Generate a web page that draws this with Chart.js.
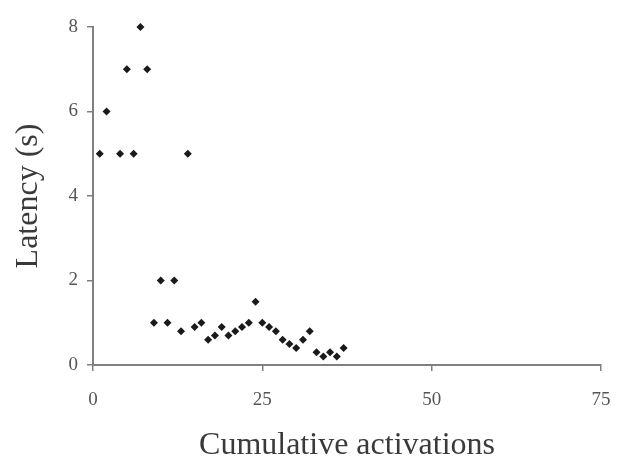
<!DOCTYPE html>
<html>
<head>
<meta charset="utf-8">
<script src="https://cdn.jsdelivr.net/npm/chart.js@4"></script>
<style>
  html, body { margin: 0; padding: 0; background: #fff; }
  #wrap { width: 621px; height: 466px; }
</style>
</head>
<body>
<div id="wrap"><canvas id="chart" width="621" height="466"></canvas></div>
<script>
// Activation count vs. response latency
const activations = [1, 2, 4, 5, 6, 7, 8, 9, 10, 11, 12, 13, 14, 15, 16, 17, 18, 19, 20,
  21, 22, 23, 24, 25, 26, 27, 28, 29, 30, 31, 32, 33, 34, 35, 36, 37];
const latency = [5, 6, 5, 7, 5, 8, 7, 1, 2, 1, 2, 0.8, 5, 0.9, 1, 0.6, 0.7, 0.9, 0.7,
  0.8, 0.9, 1, 1.5, 1, 0.9, 0.8, 0.6, 0.5, 0.4, 0.6, 0.8, 0.3, 0.2, 0.3, 0.2, 0.4];
const xTicks = [0, 25, 50, 75];
const yTicks = [0, 2, 4, 6, 8];

const serif = '"Liberation Serif", "Times New Roman", serif';
const axisGrey = '#808080';

new Chart(document.getElementById('chart'), {
  type: 'scatter',
  data: {
    datasets: [{
      data: activations.map((x, i) => ({ x: x, y: latency[i] })),
      pointStyle: 'rectRot',
      pointRadius: 4,
      backgroundColor: '#1a1a1a',
      borderColor: '#1a1a1a',
      borderWidth: 0,
      clip: false
    }]
  },
  options: {
    responsive: false,
    animation: false,
    layout: { padding: { top: 27, right: 20, bottom: 0, left: 0 } },
    plugins: { legend: { display: false }, tooltip: { enabled: false } },
    scales: {
      x: {
        type: 'linear',
        min: 0, max: 75,
        afterBuildTicks: s => { s.ticks = xTicks.map(v => ({ value: v })); },
        afterFit: s => { s.height = 101; s.paddingRight = 0; s.paddingLeft = 0; },
        grid: { display: true, drawOnChartArea: false, drawTicks: true, tickLength: 6, color: axisGrey, lineWidth: 1.5 },
        border: { display: true, color: axisGrey, width: 2 },
        ticks: { color: '#555', padding: 18, font: { family: serif, size: 19 } },
        title: {
          display: true, text: 'Cumulative activations', color: '#3a3a3a',
          font: { family: serif, size: 32 }, padding: { top: 0, bottom: 1 }
        }
      },
      y: {
        type: 'linear',
        min: 0, max: 8,
        afterBuildTicks: s => { s.ticks = yTicks.map(v => ({ value: v })); },
        afterFit: s => { s.width = 93; s.paddingTop = 0; s.paddingBottom = 0; },
        grid: { display: true, drawOnChartArea: false, drawTicks: true, tickLength: 6, color: axisGrey, lineWidth: 1.5 },
        border: { display: true, color: axisGrey, width: 2 },
        ticks: { color: '#555', padding: 9, font: { family: serif, size: 19 } },
        title: {
          display: true, text: 'Latency (s)', color: '#3a3a3a',
          font: { family: serif, size: 32 }, padding: { top: 9, bottom: 0 }
        }
      }
    }
  }
});
</script>
</body>
</html>
